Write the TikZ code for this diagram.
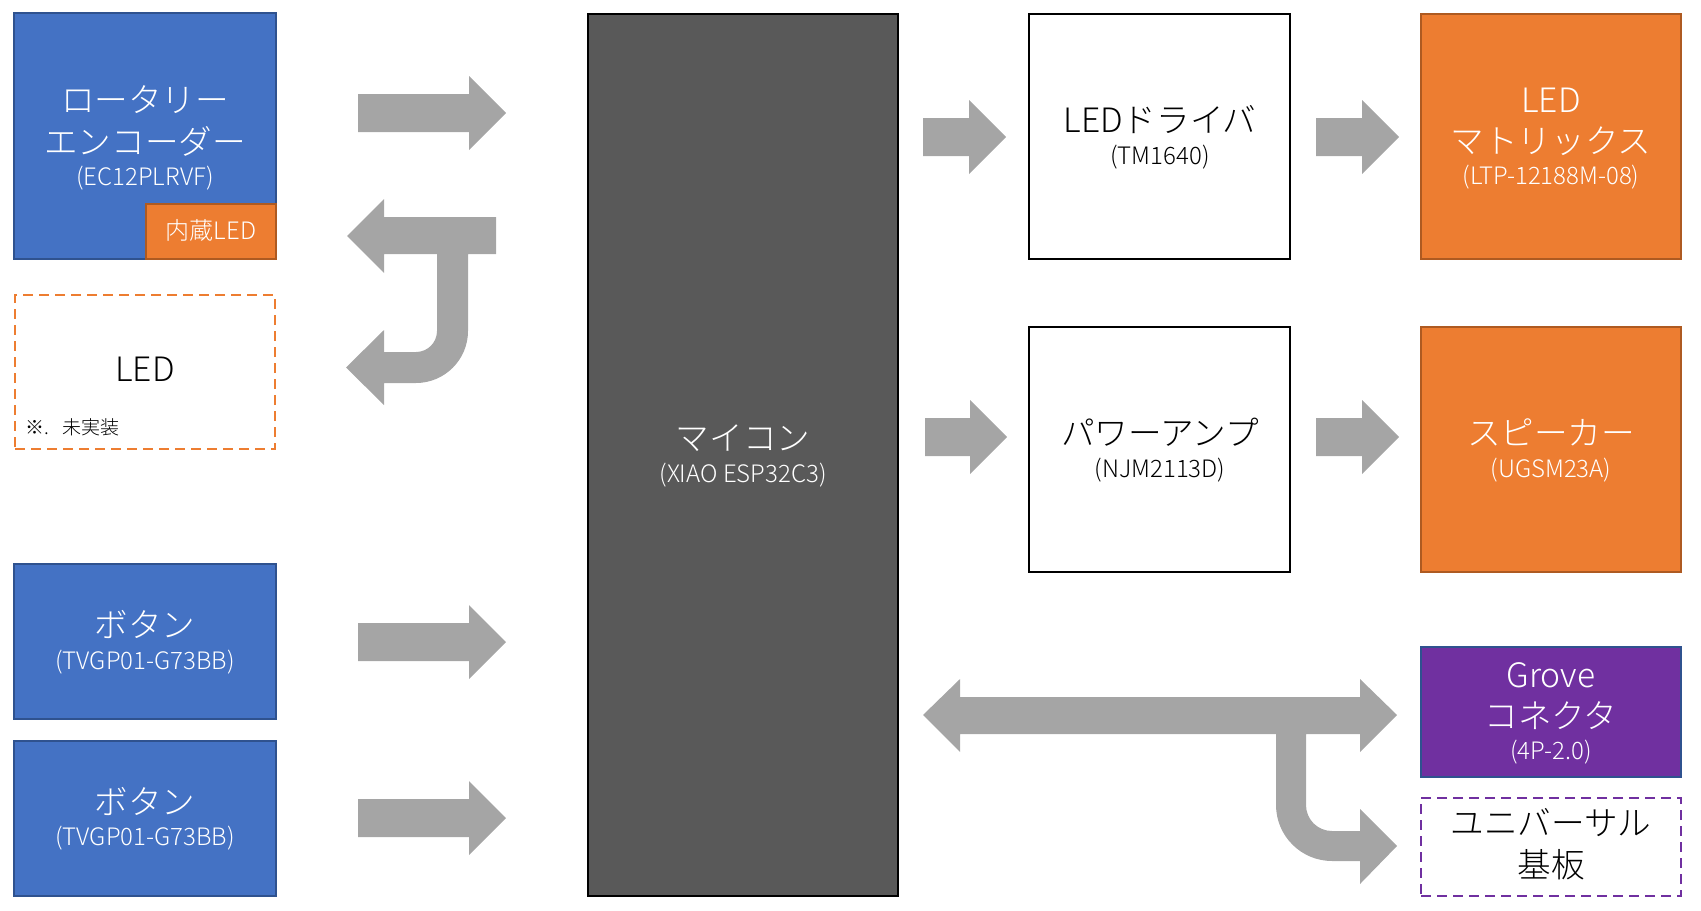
\documentclass[tikz,border=0pt]{standalone}
\usepackage{fontspec}
\setmainfont{Noto Sans CJK JP Light}
\definecolor{cblue}{HTML}{4472C4}
\definecolor{cbluedk}{HTML}{2F528F}
\definecolor{corange}{HTML}{ED7D31}
\definecolor{corangedk}{HTML}{AE5A21}
\definecolor{cpurple}{HTML}{7030A0}
\definecolor{cdark}{HTML}{595959}
\definecolor{carrow}{HTML}{A5A5A5}
\begin{document}
\begin{tikzpicture}[x=0.5pt,y=-0.5pt,
  box/.style={rectangle,inner sep=0pt,line width=0.9pt},
  bluebox/.style={box,fill=cblue,draw=cbluedk},
  orangebox/.style={box,fill=corange,draw=corangedk},
  whitebox/.style={box,fill=white,draw=black},
  mt/.style={anchor=base,inner sep=0pt,font=\fontsize{16.8}{20}\selectfont},
  st/.style={anchor=base,inner sep=0pt,font=\fontsize{12}{14}\selectfont},
  fat/.style={fill=carrow,draw=none}]
\useasboundingbox (0,0) rectangle (1701,910);
% boxes
\node[bluebox,minimum width=131pt,minimum height=123pt] (enc) at (145,136) {};
\node[orangebox,minimum width=65pt,minimum height=27.5pt] (inled) at (211,231.5) {};
\node[box,draw=corange,dashed,dash pattern=on 5pt off 3pt,minimum width=130pt,minimum height=77pt] (led) at (145,372) {};
\node[bluebox,minimum width=131pt,minimum height=77.5pt] (btn1) at (145,641.5) {};
\node[bluebox,minimum width=131pt,minimum height=77.5pt] (btn2) at (145,818.5) {};
\node[box,fill=cdark,draw=black,minimum width=155pt,minimum height=441pt] (mcu) at (743,455) {};
\node[whitebox,minimum width=130.5pt,minimum height=122.5pt] (drv) at (1159.5,136.5) {};
\node[whitebox,minimum width=130.5pt,minimum height=122.5pt] (amp) at (1159.5,449.5) {};
\node[orangebox,minimum width=130pt,minimum height=122.5pt] (mat) at (1551,136.5) {};
\node[orangebox,minimum width=130pt,minimum height=122.5pt] (spk) at (1551,449.5) {};
\node[box,fill=cpurple,draw=cbluedk,minimum width=130pt,minimum height=65pt] (grove) at (1551,712) {};
\node[box,draw=cpurple,dashed,dash pattern=on 5pt off 3pt,minimum width=130pt,minimum height=49pt] (univ) at (1551,847) {};
% texts
\node[mt,white] (t1) at (145,112) {ロータリー};
\node[mt,white] (t2) at (145,154) {エンコーダー};
\node[st,white] (t3) at (145,185) {(EC12PLRVF)};
\node[anchor=base,inner sep=0pt,white,font=\fontsize{12}{14}\selectfont] (t4) at (211,239) {内蔵LED};
\node[mt] (t5) at (145,381) {LED};
\node[anchor=base west,inner sep=0pt,font=\fontsize{9.5}{11}\selectfont] (t6) at (25,434) {※.\hspace{0.7em}未実装};
\node[mt,white] (t7) at (145,637) {ボタン};
\node[st,white] (t8) at (145,669) {(TVGP01-G73BB)};
\node[mt,white] (t9) at (145,814) {ボタン};
\node[st,white] (t10) at (145,845) {(TVGP01-G73BB)};
\node[mt,white] (t11) at (743,450) {マイコン};
\node[st,white] (t12) at (743,482) {(XIAO ESP32C3)};
\node[mt] (t13) at (1160,132) {LEDドライバ};
\node[st] (t14) at (1160,164) {(TM1640)};
\node[mt] (t15) at (1160,445) {パワーアンプ};
\node[st] (t16) at (1160,477) {(NJM2113D)};
\node[mt,white] (t17) at (1551,112) {LED};
\node[mt,white] (t18) at (1551,153) {マトリックス};
\node[st,white] (t19) at (1551,184) {(LTP-12188M-08)};
\node[mt,white] (t20) at (1551,445) {スピーカー};
\node[st,white] (t21) at (1551,477) {(UGSM23A)};
\node[mt,white] (t22) at (1551,687) {Grove};
\node[mt,white] (t23) at (1551,728) {コネクタ};
\node[st,white] (t24) at (1551,759) {(4P-2.0)};
\node[mt] (t25) at (1551,835) {ユニバーサル};
\node[mt] (t26) at (1551,877) {基板};
% straight block arrows
\newcommand\blockarrow[4]{%
  \fill[fat] (#1,#4-19) -- (#2,#4-19) -- (#2,#4-37) -- (#3,#4) -- (#2,#4+37) -- (#2,#4+19) -- (#1,#4+19) -- cycle;}
\blockarrow{358}{469}{506}{113}
\blockarrow{358}{469}{506}{642}
\blockarrow{358}{469}{506}{818}
\blockarrow{923}{969}{1006}{137}
\blockarrow{925}{970}{1007}{437}
\blockarrow{1316}{1362}{1399}{137}
\blockarrow{1316}{1362}{1399}{437}
% U-turn arrow (left)
\fill[fat] (347,236) -- (384,199) -- (384,217) -- (496,217) -- (496,254) -- (468,254) -- (468,331)
  .. controls (468,359.7) and (444.7,383) .. (416,383)
  -- (384,383) -- (384,405) -- (346,367.5) -- (384,330) -- (384,352) -- (416,352)
  .. controls (427.6,352) and (437,342.6) .. (437,331)
  -- (437,254) -- (384,254) -- (384,273) -- cycle;
% double arrow with branch
\fill[fat] (923,715) -- (960,679) -- (960,697) -- (1360,697) -- (1360,679) -- (1397,715) -- (1360,752) -- (1360,734)
  -- (1306,734) -- (1306,805)
  .. controls (1306,819.4) and (1317.6,831) .. (1332,831)
  -- (1360,831) -- (1360,809) -- (1397,846) -- (1360,884) -- (1360,861) -- (1332,861)
  .. controls (1301.1,861) and (1276,835.9) .. (1276,805)
  -- (1276,734) -- (960,734) -- (960,752) -- cycle;
\end{tikzpicture}
\end{document}
